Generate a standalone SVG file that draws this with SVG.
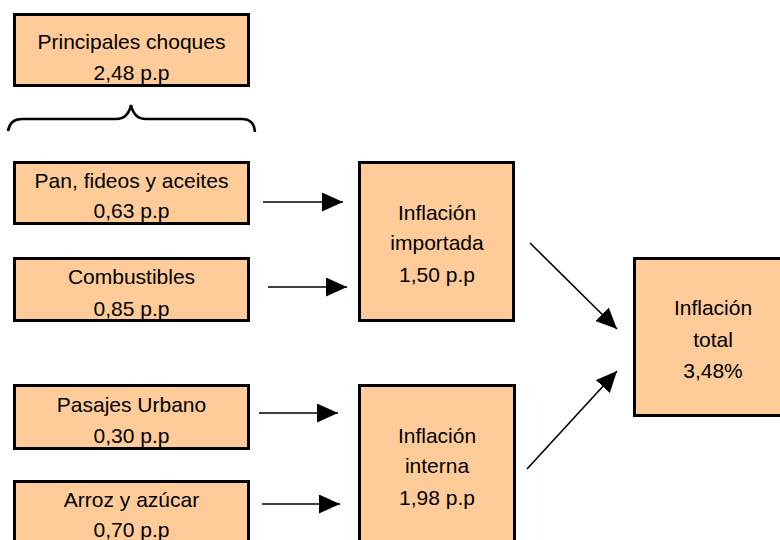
<svg xmlns="http://www.w3.org/2000/svg" width="780" height="540" viewBox="0 0 780 540">
  <style>
    .box { fill: #FFCC99; stroke: #000000; stroke-width: 3; }
    .lbl { font-family: "Liberation Sans", Arial, sans-serif; font-size: 21px; fill: #000000; text-anchor: middle; }
    .conn { stroke: #000000; stroke-width: 1.6; fill: none; marker-end: url(#arrow); }
    .brace { stroke: #000000; stroke-width: 2.6; fill: none; }
  </style>
  <defs>
    <marker id="arrow" markerUnits="userSpaceOnUse" markerWidth="22" markerHeight="20" refX="21" refY="9.5" orient="auto">
      <path d="M0,0 L21,9.5 L0,19 Z" fill="#000000"/>
    </marker>
  </defs>
  <rect width="780" height="540" fill="#ffffff"/>

  <g id="principales">
    <rect class="box" x="14.5" y="14.5" width="234" height="71"/>
    <text class="lbl" x="131.5" y="49">Principales choques</text>
    <text class="lbl" x="131.5" y="80">2,48 p.p</text>
  </g>

  <g id="brace">
    <path class="brace" d="M8,131 Q10,119 22,119 L116,119 Q128,119 131,105 Q134,119 146,119 L242,119 Q254,119 255,132"/>
  </g>

  <g id="pan">
    <rect class="box" x="14.5" y="162.5" width="234" height="61"/>
    <text class="lbl" x="131.5" y="188">Pan, fideos y aceites</text>
    <text class="lbl" x="131.5" y="218">0,63 p.p</text>
  </g>

  <g id="combustibles">
    <rect class="box" x="14.5" y="258.5" width="234" height="62"/>
    <text class="lbl" x="131.5" y="284">Combustibles</text>
    <text class="lbl" x="131.5" y="316">0,85 p.p</text>
  </g>

  <g id="pasajes">
    <rect class="box" x="14.5" y="385.5" width="234" height="63"/>
    <text class="lbl" x="131.5" y="412">Pasajes Urbano</text>
    <text class="lbl" x="131.5" y="443">0,30 p.p</text>
  </g>

  <g id="arroz">
    <rect class="box" x="14.5" y="481.5" width="234" height="80"/>
    <text class="lbl" x="131.5" y="507">Arroz y azúcar</text>
    <text class="lbl" x="131.5" y="537">0,70 p.p</text>
  </g>

  <g id="importada">
    <rect class="box" x="359.5" y="162.5" width="154" height="158"/>
    <text class="lbl" x="437" y="220">Inflación</text>
    <text class="lbl" x="437" y="250">importada</text>
    <text class="lbl" x="437" y="282">1,50 p.p</text>
  </g>

  <g id="interna">
    <rect class="box" x="359.5" y="385.5" width="155" height="180"/>
    <text class="lbl" x="437" y="443">Inflación</text>
    <text class="lbl" x="437" y="473">interna</text>
    <text class="lbl" x="437" y="505">1,98 p.p</text>
  </g>

  <g id="total">
    <rect class="box" x="634.5" y="258.5" width="157" height="157"/>
    <text class="lbl" x="713" y="315">Inflación</text>
    <text class="lbl" x="713" y="347">total</text>
    <text class="lbl" x="713" y="378">3,48%</text>
  </g>

  <g id="connectors">
    <line class="conn" x1="263" y1="202" x2="343" y2="202"/>
    <line class="conn" x1="268" y1="287" x2="347" y2="287"/>
    <line class="conn" x1="259" y1="413" x2="338" y2="413"/>
    <line class="conn" x1="262" y1="504" x2="340" y2="504"/>
    <line class="conn" x1="530" y1="243" x2="617" y2="329"/>
    <line class="conn" x1="527" y1="469" x2="617" y2="371"/>
  </g>
</svg>
